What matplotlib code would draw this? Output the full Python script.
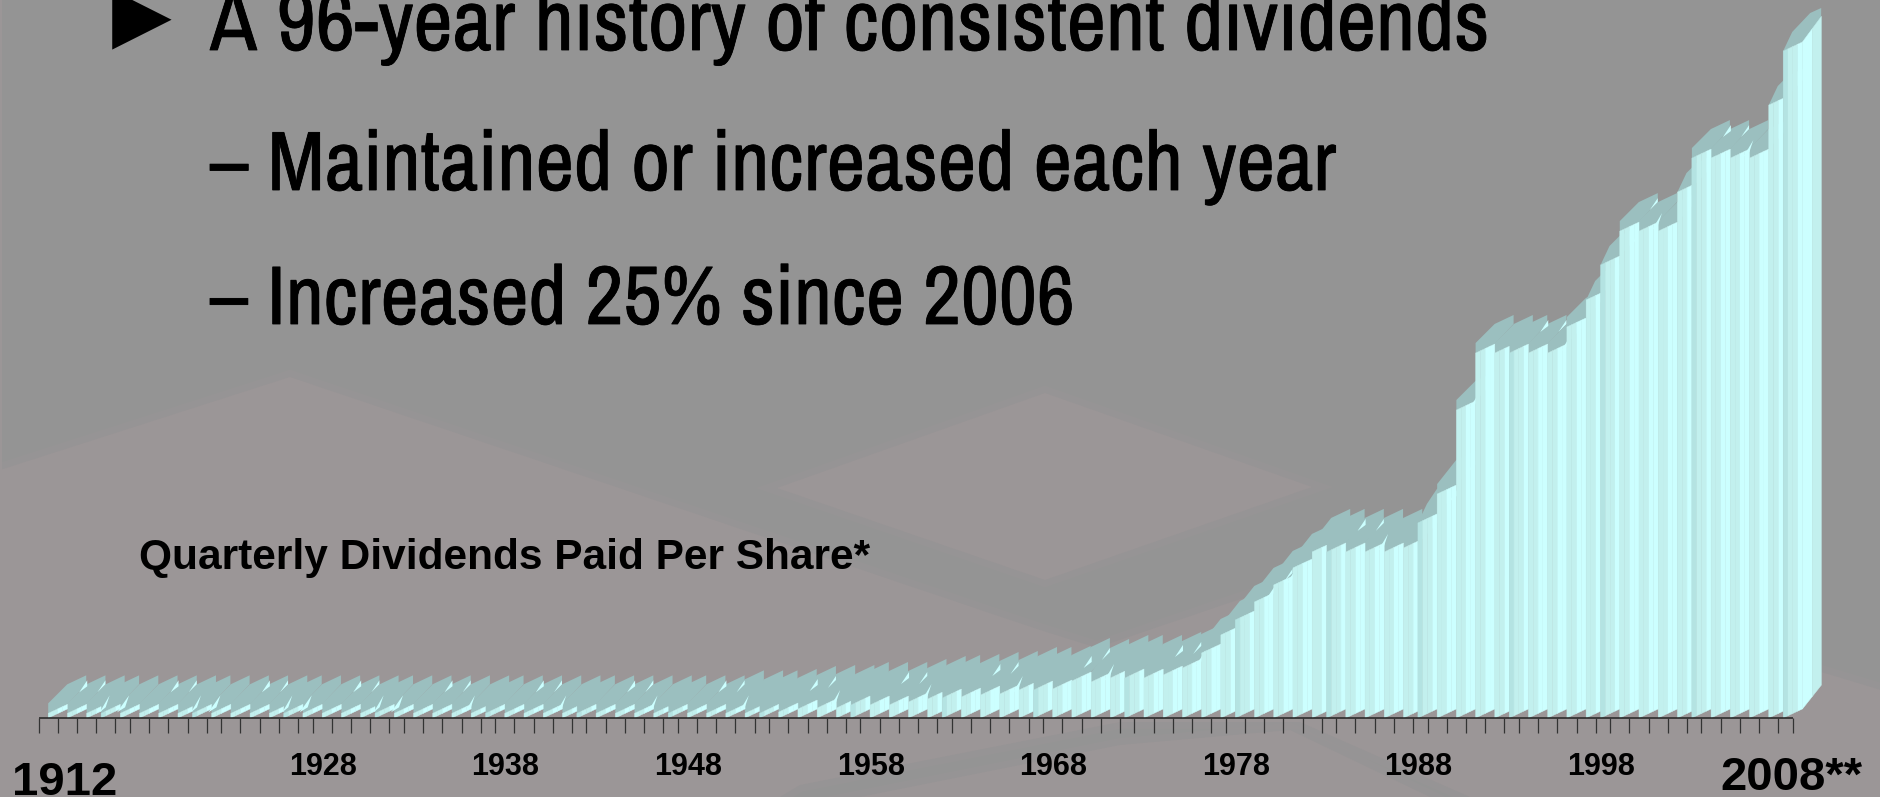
#!/usr/bin/env python3
import numpy as np
from matplotlib import pyplot as plt
from matplotlib.patches import Polygon
from matplotlib import patheffects

# Quarterly dividend per share in cents, one value per year slot
flat_years = [0.28] * 40
rising_years = [0.36, 0.54, 0.60, 0.60, 0.78, 0.78, 0.78, 0.96, 1.14, 1.20,
                1.26, 1.38, 1.44, 1.68, 1.68, 1.74, 2.22, 2.16, 2.40, 2.40,
                2.40, 2.58, 3.00, 3.90, 4.98, 5.88, 6.96, 7.98, 9.00, 9.96]
recent_years = [9.96, 9.96, 9.96, 9.96, 10.20, 11.70, 13.43, 18.47, 21.89, 21.89,
                21.89, 21.89, 21.89, 23.45, 25.07, 27.17, 29.20, 29.20, 29.20, 31.54,
                33.58, 33.58, 33.58, 33.58, 36.76, 40.00]
dividends = np.array(flat_years + rising_years + recent_years)

year_labels = [1928, 1938, 1948, 1958, 1968, 1978, 1988, 1998]

W, H = 1881, 797
CELL = 4.806       # pixels per column of the coarse chart grid
CENT = 16.675      # pixels per cent
X0 = 38.6
BASE = 718

FRONT_DARK = '#c2f0ee'
FRONT_LIGHT = '#ccffff'
FRONT_SHADE = '#b4e3e2'
TOP = '#9bbfbf'
BG = '#949494'
BG_PINK = '#9b9697'
SLOPE = 0.47       # rise of the skewed front faces
SLANTED = [75, 84, 85, 89, 94]   # bars just before a big step up


def tick_cell(k):
    return np.floor(k * 3.803 + 0.801)


def bar_cell(i):
    return np.floor(i * 3.805 + 0.5) + 2


def dx(p):
    return p / CELL


def dy(p):
    return p / CENT


fig = plt.figure(figsize=(W / 100, H / 100), dpi=100, facecolor=BG)
ax = fig.add_axes([0, 0, 1, 1])
ax.set_xlim(-X0 / CELL, (W - X0) / CELL)
ax.set_ylim(-(H - BASE) / CENT, BASE / CENT)
ax.axis('off')


def to_data(points):
    return [((x - X0) / CELL, (BASE - y) / CENT) for x, y in points]


# backdrop shapes, with a soft rim
backdrop = [
    [(0, 470), (290, 377), (1040, 630), (1120, 655), (1120, 722), (800, 785), (780, 797), (0, 797)],
    [(1045, 393), (1312, 487), (1045, 580), (777, 488)],
    [(1090, 650), (1400, 545), (1881, 690), (1881, 797), (1470, 797), (1300, 722), (1120, 722)],
    [(860, 797), (1120, 745), (1290, 730), (1430, 797)],
]
for shape in backdrop:
    ax.add_patch(Polygon(to_data(shape), closed=True, fc=BG_PINK, ec=BG_PINK, lw=10, alpha=0.35, zorder=1))
    ax.add_patch(Polygon(to_data(shape), closed=True, fc=BG_PINK, ec='none', zorder=1.1))
ax.add_patch(Polygon(to_data([(0, 0), (2, 0), (2, 470), (0, 470)]), closed=True, fc=BG_PINK, ec='none', zorder=1))

# top faces first, the front faces of later bars cover them
n = len(dividends)
for i, value in enumerate(dividends):
    x = bar_cell(i)
    lift = 5 if 37 <= i <= 76 else 0   # the back edge stands higher through the middle years
    if i == n - 1:
        outline = [(0, 0), (19, 9), (27, 18), (38, 34), (38, 43), (27, 38), (9, 19)]
    elif i in SLANTED:
        outline = [(0, 0), (19, 9), (38, 29), (38, 38 + lift), (19, 29 + lift), (9, 19)]
    else:
        outline = [(0, 0), (19, 9), (38, 29), (38, 38 + lift), (19, 29 + lift), (0, 10)]
    pts = [(x + dx(a), value + dy(b)) for a, b in outline]
    ax.add_patch(Polygon(pts, closed=True, fc=TOP, ec='none', zorder=3))

    # pale slivers where the side of a bar shows through
    phase = int(bar_cell(i) - 2) % 19
    if phase == 0:
        sliver = [(31, 21), (39, 33), (39, 27)]
    elif phase == 4:
        sliver = [(30, 21), (38, 33), (38, 29)]
    elif phase == 8:
        sliver = [(13, 1), (23, 18), (19, 6)]
    elif phase == 11:
        sliver = [(16, 1), (28, 18), (24, 6)]
    else:
        sliver = None
    if sliver and i < n - 1:
        pts = [(x + dx(a), value + dy(b)) for a, b in sliver]
        ax.add_patch(Polygon(pts, closed=True, fc=FRONT_LIGHT, ec='none', zorder=4))

# skewed front faces, split into darker and lighter stripes
for i, value in enumerate(dividends):
    x0 = bar_cell(i)
    x1 = bar_cell(i + 1)
    cells = int(x1 - x0)
    after_narrow = i > 0 and bar_cell(i) - bar_cell(i - 1) == 3
    if after_narrow:
        colors = [FRONT_SHADE, FRONT_DARK, FRONT_DARK, FRONT_LIGHT]
    elif cells == 3:
        colors = [FRONT_DARK, FRONT_DARK, FRONT_LIGHT]
    else:
        colors = [FRONT_DARK, FRONT_DARK, FRONT_LIGHT, FRONT_LIGHT]
    for c, color in enumerate(colors):
        a, b = x0 + c, x0 + c + 1
        rise_a = dy(SLOPE * c * CELL)
        rise_b = dy(SLOPE * (c + 1) * CELL)
        pts = [(a, rise_a), (b, rise_b), (b, value + rise_b), (a, value + rise_a)]
        ax.add_patch(Polygon(pts, closed=True, fc=color, ec=color, lw=0.3, zorder=5))

# side of the last bar
x_end = bar_cell(n)
last = dividends[-1]
side_cells = [(FRONT_LIGHT, 0, 10), (FRONT_DARK, 10, 19)]
for color, a, b in side_cells:
    ra = dy(9 + a * 1.26)
    rb = dy(9 + b * 1.26)
    pts = [(x_end + dx(a), ra), (x_end + dx(b), rb), (x_end + dx(b), last + dy(9 + b * 1.35)), (x_end + dx(a), last + dy(9 + a * 1.35))]
    ax.add_patch(Polygon(pts, closed=True, fc=color, ec=color, lw=0.3, zorder=4.5))

# category axis
ticks = tick_cell(np.arange(97))
ax.plot([ticks[0], ticks[-1]], [0, 0], color='#222222', lw=1.1, zorder=6, solid_capstyle='butt')
ax.vlines(ticks, dy(-14.5), 0, color='#333333', lw=0.9, zorder=6)

sans = 'Liberation Sans'
for year in year_labels:
    ax.text(tick_cell(year - 1912) - dx(9), dy(BASE - 775), str(year), ha='center', va='baseline',
            fontsize=22, fontweight='bold', family=sans, color='black', zorder=7)
fig.text(12 / W, 1 - 795 / H, '1912', fontsize=34, fontweight='bold', family=sans, color='black')
fig.text(1720 / W, 1 - 790 / H, '2008**', fontsize=34, fontweight='bold', family=sans, color='black')
fig.text(139 / W, 1 - 569 / H, 'Quarterly Dividends Paid Per Share*', fontsize=30.5, fontweight='bold', family=sans, color='black')

# bullet lines, thickened a little since the narrow face is light
narrow = ['Archivo Narrow', 'Roboto Condensed', 'Liberation Sans']
heavier = [patheffects.withStroke(linewidth=0.6, foreground='black')]
fig.text(112 / W, 1 - 39 / H, '\u25b6', fontsize=56, family='DejaVu Sans', color='black')
lines = [(210, 50, 61.8, 'A 96-year history of consistent dividends'),
         (210, 190, 60.5, '\u2013 Maintained or increased each year'),
         (210, 324, 59.9, '\u2013 Increased 25% since 2006')]
for x, y, size, line in lines:
    fig.text(x / W, 1 - y / H, line, fontsize=size, family=narrow, color='black', path_effects=heavier)

fig.savefig('out.png', dpi=100, facecolor=BG)
